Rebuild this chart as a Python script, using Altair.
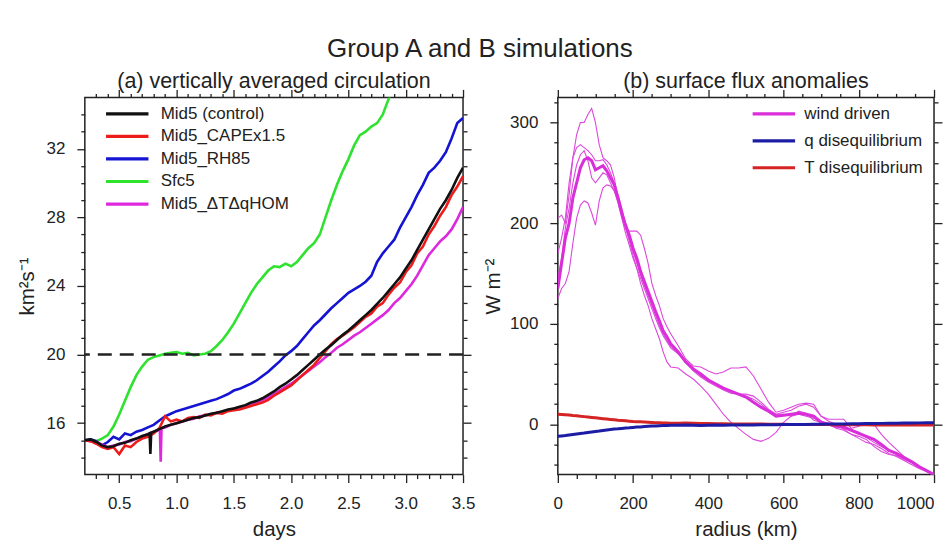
import altair as alt
import pandas as pd

FONT = "Liberation Sans"
INK = "#222222"

# ---------------- panel (a): vertically averaged circulation ----------------
DAYS = [round(0.20 + 0.05 * i, 2) for i in range(67)]

SERIES_A = ["Mid5 (control)", "Mid5_CAPEx1.5", "Mid5_RH85", "Sfc5", "Mid5_ΔTΔqHOM"]
COLORS_A = ["#111111", "#ec1c1c", "#1414d2", "#2fe22f", "#dd28dd"]

CONTROL = [15.0, 15.05, 14.9, 14.7, 14.6, 14.65, 14.8, 14.85, 15.0, 15.1,
           15.25, 15.35, 15.5, 15.65, 15.8, 15.9, 16.0, 16.1, 16.2, 16.3,
           16.35, 16.45, 16.55, 16.6, 16.7, 16.8, 16.85, 16.95, 17.05, 17.2,
           17.3, 17.45, 17.65, 17.85, 18.1, 18.3, 18.55, 18.8, 19.1, 19.4,
           19.7, 20.0, 20.3, 20.55, 20.85, 21.15, 21.4, 21.7, 22.0, 22.3,
           22.6, 22.95, 23.3, 23.7, 24.1, 24.5, 25.0, 25.5, 26.1, 26.7,
           27.3, 27.9, 28.5, 29.0, 29.6, 30.3, 30.9]
CAPE = [15.0, 14.95, 14.8, 14.6, 14.5, 14.6, 14.2, 14.7, 14.6, 14.9,
        15.1, 15.2, 15.4, 15.7, 16.4, 16.1, 16.2, 16.1, 16.3, 16.35,
        16.3, 16.5, 16.45, 16.6, 16.55, 16.7, 16.75, 16.8, 16.9, 17.0,
        17.1, 17.2, 17.35, 17.6, 17.8, 18.0, 18.2, 18.5, 18.8, 19.1,
        19.4, 19.8, 20.2, 20.6, 20.9, 21.1, 21.35, 21.6, 21.9, 22.2,
        22.4, 22.8, 23.0, 23.5, 23.9, 24.2, 24.8, 25.2, 25.9, 26.3,
        27.0, 27.5, 28.1, 28.6, 29.3, 29.8, 30.4]
RH85 = [15.0, 15.05, 14.95, 14.7, 14.9, 15.2, 15.05, 15.4, 15.3, 15.5,
        15.6, 15.75, 15.9, 16.15, 16.4, 16.55, 16.7, 16.8, 16.9, 17.0,
        17.1, 17.2, 17.3, 17.4, 17.55, 17.7, 17.9, 18.0, 18.15, 18.3,
        18.5, 18.75, 19.0, 19.3, 19.6, 19.95, 20.2, 20.5, 20.9, 21.3,
        21.7, 22.0, 22.35, 22.7, 23.0, 23.3, 23.6, 23.8, 24.0, 24.25,
        24.6, 25.4, 25.9, 26.3, 26.7, 27.4, 28.0, 28.6, 29.3, 29.9,
        30.6, 30.9, 31.3, 31.8, 32.6, 33.5, 33.8]
SFC5 = [15.0, 15.0, 14.95, 15.1, 15.3, 15.8, 16.5, 17.3, 18.1, 18.8,
        19.3, 19.7, 19.85, 19.95, 20.05, 20.1, 20.15, 20.05, 20.1, 19.95,
        20.0, 20.05, 20.2, 20.5, 20.85, 21.3, 21.8, 22.4, 23.0, 23.6,
        24.1, 24.5, 24.9, 25.15, 25.1, 25.3, 25.15, 25.4, 25.8, 26.2,
        26.5, 27.0, 28.0, 29.0, 29.9, 30.7, 31.4, 32.2, 32.8, 33.0,
        33.3, 33.5, 34.0, 34.9, 35.8]
HOM = [15.0, 14.95, 14.9, 14.75, 14.6, 14.7, 14.75, 14.9, 14.95, 15.1,
       15.2, 15.35, 15.5, 15.6, 15.75, 15.9, 16.0, 16.1, 16.2, 16.25,
       16.4, 16.45, 16.5, 16.6, 16.65, 16.75, 16.85, 16.9, 17.0, 17.1,
       17.2, 17.35, 17.5, 17.7, 17.9, 18.1, 18.3, 18.55, 18.8, 19.05,
       19.3, 19.55, 19.85, 20.1, 20.4, 20.6, 20.85, 21.1, 21.3, 21.55,
       21.8, 22.05, 22.3, 22.6, 23.0, 23.3, 23.7, 24.1, 24.6, 25.2,
       25.8, 26.2, 26.6, 26.9, 27.3, 27.9, 28.6]

# short spikes in the output
CONTROL_SPIKE_DAYS = [0.765, 0.772, 0.779]
CONTROL_SPIKE_VALS = [15.4, 14.2, 15.45]
HOM_SPIKE_DAYS = [0.855, 0.862, 0.869]
HOM_SPIKE_VALS = [15.62, 13.75, 15.7]

REF_LEVEL = [20]

X_MAJOR_A = [0.5, 1.0, 1.5, 2.0, 2.5, 3.0, 3.5]
X_MINOR_A = [0.3, 0.4, 0.6, 0.7, 0.8, 0.9, 1.1, 1.2, 1.3, 1.4, 1.6, 1.7, 1.8, 1.9,
             2.1, 2.2, 2.3, 2.4, 2.6, 2.7, 2.8, 2.9, 3.1, 3.2, 3.3, 3.4]
Y_MAJOR_A = [16, 20, 24, 28, 32]
Y_MINOR_A = [14, 15, 17, 18, 19, 21, 22, 23, 25, 26, 27, 29, 30, 31, 33, 34]

# ---------------- panel (b): surface flux anomalies ----------------
RADIUS = list(range(0, 301, 10)) + list(range(320, 1001, 20))

WIND_MEAN = [135, 160, 185, 200, 225, 240, 255, 263, 265, 262, 253, 255, 257, 252, 245, 238,
             225, 210, 198, 188, 175, 165, 152, 142, 132, 122, 112, 103, 93, 87, 80,
             72, 62, 55, 50, 44, 40, 36, 33, 30, 27, 22, 17, 13, 8, 9, 10, 11, 10, 8, 2,
             0, -2, -3, -6, -9, -12, -15, -20, -26, -29, -33, -37, -42, -46, -50]
WIND_M1 = [205, 208, 200, 228, 265, 288, 300, 300, 308, 314, 300, 278, 265, 262, 258, 245,
           225, 207, 195, 192, 192, 192, 188, 175, 160, 140, 128, 118, 105, 97, 90,
           78, 65, 58, 57, 53, 50, 52, 56, 56, 57, 48, 35, 22, 12, 14, 17, 20, 21, 20, 8,
           5, 5, 5, -4, -2, 0, 0, -10, -18, -25, -32, -37, -42, -46, -50]
WIND_M2 = [170, 185, 205, 240, 265, 275, 278, 275, 272, 268, 262, 262, 263, 258, 250, 240,
           228, 215, 200, 185, 172, 160, 148, 138, 128, 118, 108, 98, 90, 83, 78,
           70, 62, 53, 47, 42, 38, 34, 31, 30, 30, 28, 22, 15, 10, 12, 14, 18, 20, 17, 8,
           3, 0, -5, -10, -12, -15, -22, -27, -30, -31, -35, -38, -43, -47, -51]
WIND_M3 = [145, 165, 195, 215, 240, 258, 268, 272, 262, 245, 240, 245, 250, 248, 240, 232,
           220, 205, 190, 178, 165, 155, 145, 135, 125, 115, 105, 96, 88, 82, 76,
           70, 62, 55, 48, 44, 40, 36, 33, 30, 28, 25, 20, 14, 10, 10, 8, 10, 8, 6, 3,
           0, -4, -6, -10, -14, -18, -20, -24, -29, -32, -36, -40, -44, -47, -51]
WIND_M4 = [125, 135, 140, 152, 180, 205, 218, 222, 220, 210, 198, 222, 235, 238, 237, 232,
           222, 208, 195, 182, 168, 155, 140, 128, 118, 105, 95, 85, 72, 62, 57,
           56, 50, 45, 38, 30, 20, 10, 2, -4, -10, -15, -17, -14, -8, 2, 8, 13, 11, 4, 2,
           0, -1, -2, -5, -8, -13, -18, -22, -26, -30, -34, -38, -43, -47, -50]
Q_DISEQ = [-12, -11.6, -11.2, -10.6, -10.1, -9.6, -9.1, -8.7, -8.1, -7.6, -7.1, -6.7, -6.1,
           -5.6, -5.2, -4.8, -4.5, -4.1, -3.8, -3.5, -3.1, -2.8, -2.6, -2.3, -2.0, -1.8,
           -1.7, -1.5, -1.3, -1.2, -1.0,
           -1.0, -0.8, -0.9, -1.1, -1.0, -0.8, -1.0, -0.8, -0.7, -0.6, -0.6, -0.5, -0.5,
           -0.4, -0.3, -0.3, -0.2, -0.1, 0.0, 0.0, 0.2, 0.3, 0.4, 0.5, 0.6, 0.7, 0.8, 0.9,
           1.0, 1.1, 1.2, 1.3, 1.4, 1.5, 1.6]
T_DISEQ = [10.0, 9.8, 9.5, 9.2, 8.8, 8.5, 8.0, 7.6, 7.2, 6.8, 6.4, 6.0, 5.6, 5.2, 4.8,
           4.4, 4.0, 3.7, 3.4, 3.1, 2.8, 2.6, 2.4, 2.2, 2.0, 1.8, 1.6, 1.5, 1.3, 1.2, 1.1,
           1.0, 1.2, 1.0, 0.8, 0.8, 0.6, 0.5, 0.4, 0.4, 0.3, 0.2, 0.2, 0.1, 0.0, 0.0,
           -0.1, -0.1, -0.2, -0.2, -0.3, -0.3, -0.4, -0.4, -0.5, -0.5, -0.5, -0.6, -0.6,
           -0.6, -0.7, -0.7, -0.7, -0.8, -0.8, -0.8]

SERIES_B = ["wind driven", "q disequilibrium", "T disequilibrium"]
COLORS_B = ["#d92ed9", "#1c1ca4", "#d42424"]
MAGENTA_THIN = "#dc48dc"

X_MAJOR_B = [0, 200, 400, 600, 800, 1000]
X_MINOR_B = [50, 100, 150, 250, 300, 350, 450, 500, 550, 650, 700, 750, 850, 900, 950]
Y_MAJOR_B = [0, 100, 200, 300]
Y_MINOR_B = [-40, -20, 20, 40, 60, 80, 120, 140, 160, 180, 220, 240, 260, 280, 320]

# ---------------- data frames ----------------
def series_frame(name, days, vals, spike_days=(), spike_vals=()):
    d = pd.DataFrame({"day": list(days[:len(vals)]) + list(spike_days),
                      "value": list(vals) + list(spike_vals)})
    d["series"] = name
    return d.sort_values("day")

left_df = pd.concat([
    series_frame("Sfc5", DAYS, SFC5),
    series_frame("Mid5_RH85", DAYS, RH85),
    series_frame("Mid5_ΔTΔqHOM", DAYS, HOM, HOM_SPIKE_DAYS, HOM_SPIKE_VALS),
    series_frame("Mid5_CAPEx1.5", DAYS, CAPE),
    series_frame("Mid5 (control)", DAYS, CONTROL, CONTROL_SPIKE_DAYS, CONTROL_SPIKE_VALS),
], ignore_index=True)
ref_df = pd.DataFrame({"level": REF_LEVEL})

thin_df = pd.concat([
    pd.DataFrame({"r": RADIUS, "value": m, "member": f"m{i}"})
    for i, m in enumerate([WIND_M1, WIND_M2, WIND_M3, WIND_M4])
], ignore_index=True)
thick_df = pd.concat([
    pd.DataFrame({"r": RADIUS, "value": WIND_MEAN, "series": "wind driven"}),
    pd.DataFrame({"r": RADIUS, "value": T_DISEQ, "series": "T disequilibrium"}),
    pd.DataFrame({"r": RADIUS, "value": Q_DISEQ, "series": "q disequilibrium"}),
], ignore_index=True)

# ---------------- helpers ----------------
TICK_MAJ = 8
TICK_MIN = 4


def ax(orient, values, size, labels=False, title=None, fmt=None, label_pad=10, title_pad=8,
       label_align=None):
    kw = dict(orient=orient, values=values, tickSize=size, labels=labels,
              domain=False, grid=False, tickColor=INK, tickWidth=1.3)
    if labels:
        kw.update(labelFont=FONT, labelFontSize=17, labelColor=INK, labelPadding=label_pad,
                  labelFlush=False, labelOverlap=False)
        if fmt:
            kw["format"] = fmt
        if label_align is not None:
            kw["labelAlign"] = label_align
    if title:
        kw.update(title=title, titleFont=FONT, titleFontSize=20.5, titleFontWeight="normal",
                  titleColor=INK, titlePadding=title_pad)
    else:
        kw["title"] = None
    return alt.Axis(**kw)


def frame_layers(df, xf, yf, xs, ys, xmaj, xmin, ymaj, ymin):
    base = alt.Chart(df)
    mk = dict(opacity=0, clip=True)
    l1 = base.mark_point(**mk).encode(
        x=alt.X(xf, scale=xs, axis=ax("bottom", xmin, TICK_MIN)),
        y=alt.Y(yf, scale=ys, axis=ax("left", ymin, TICK_MIN)))
    l2 = base.mark_point(**mk).encode(
        x=alt.X(xf, scale=xs, axis=ax("top", xmaj, TICK_MAJ)),
        y=alt.Y(yf, scale=ys, axis=ax("right", ymaj, TICK_MAJ)))
    l3 = base.mark_point(**mk).encode(
        x=alt.X(xf, scale=xs, axis=ax("top", xmin, TICK_MIN)),
        y=alt.Y(yf, scale=ys, axis=ax("right", ymin, TICK_MIN)))
    return [l1, l2, l3]


# ---------------- panel (a) ----------------
xs_a = alt.Scale(domain=[0.2, 3.5], nice=False, zero=False)
ys_a = alt.Scale(domain=[13, 35], nice=False, zero=False)

lines_a = alt.Chart(left_df).mark_line(strokeWidth=2.6, clip=True).encode(
    x=alt.X("day:Q", scale=xs_a,
            axis=ax("bottom", X_MAJOR_A, TICK_MAJ, True, "days", ".1f", 13, 8)),
    y=alt.Y("value:Q", scale=ys_a,
            axis=ax("left", Y_MAJOR_A, TICK_MAJ, True, "km²s⁻¹", "d", 12, 9)),
    color=alt.Color("series:N", scale=alt.Scale(domain=SERIES_A, range=COLORS_A),
                    legend=alt.Legend(title=None, orient="none", legendX=32, legendY=6,
                                      symbolType="M-2.5,0L2.5,0", symbolSize=289,
                                      symbolStrokeWidth=3.2, labelFont=FONT,
                                      labelFontSize=17, labelColor=INK, labelOffset=23,
                                      rowPadding=3.6, padding=0)),
)
dash_a = alt.Chart(ref_df).mark_rule(strokeDash=[14, 8], strokeWidth=2.6, color=INK).encode(
    y=alt.Y("level:Q", scale=ys_a, axis=None))

panel_a = alt.layer(lines_a, dash_a,
                    *frame_layers(left_df, "day:Q", "value:Q", xs_a, ys_a,
                                  X_MAJOR_A, X_MINOR_A, Y_MAJOR_A, Y_MINOR_A)
                    ).resolve_axis(x="independent", y="independent").properties(
    width=379, height=378,
    title=alt.TitleParams("(a) vertically averaged circulation", font=FONT, fontSize=21.5,
                          fontWeight="normal", color=INK, offset=-3.5))

# ---------------- panel (b) ----------------
xs_b = alt.Scale(domain=[0, 1000], nice=False, zero=False)
ys_b = alt.Scale(domain=[-50, 325], nice=False, zero=False)

last_right = {"condition": {"test": "datum.value >= 1000", "value": "right"}, "value": "center"}

thin_b = alt.Chart(thin_df).mark_line(strokeWidth=1.1, color=MAGENTA_THIN, clip=True).encode(
    x=alt.X("r:Q", scale=xs_b,
            axis=ax("bottom", X_MAJOR_B, TICK_MAJ, True, "radius (km)", "d", 13, 8,
                    label_align=last_right)),
    y=alt.Y("value:Q", scale=ys_b,
            axis=ax("left", Y_MAJOR_B, TICK_MAJ, True, "W m⁻²", "d", 12, 6)),
    detail="member:N")
thick_b = alt.Chart(thick_df).mark_line(strokeWidth=3, clip=True).encode(
    x=alt.X("r:Q", scale=xs_b, axis=None),
    y=alt.Y("value:Q", scale=ys_b, axis=None),
    color=alt.Color("series:N", scale=alt.Scale(domain=SERIES_B, range=COLORS_B),
                    legend=alt.Legend(title=None, orient="none", legendX=206, legendY=6,
                                      symbolType="M-2.5,0L2.5,0", symbolSize=289,
                                      symbolStrokeWidth=3.2, labelFont=FONT,
                                      labelFontSize=17, labelColor=INK, labelOffset=20,
                                      rowPadding=8, padding=0)),
)

panel_b = alt.layer(thin_b, thick_b,
                    *frame_layers(thin_df, "r:Q", "value:Q", xs_b, ys_b,
                                  X_MAJOR_B, X_MINOR_B, Y_MAJOR_B, Y_MINOR_B)
                    ).resolve_axis(x="independent", y="independent").properties(
    width=377, height=378,
    title=alt.TitleParams("(b) surface flux anomalies", font=FONT, fontSize=21.5,
                          fontWeight="normal", color=INK, offset=-3.5))

chart = alt.hconcat(panel_a, panel_b, spacing=95, bounds="flush").resolve_scale(
    color="independent").properties(
    title=alt.TitleParams("Group A and B simulations", font=FONT, fontSize=26,
                          fontWeight="normal", color=INK, anchor="middle", offset=8),
    padding={"left": 8, "top": 27, "right": 0, "bottom": 0},
).configure_view(stroke=INK, strokeWidth=1.5)

chart.save("out.html", embed_options={"renderer": "svg", "actions": False})
